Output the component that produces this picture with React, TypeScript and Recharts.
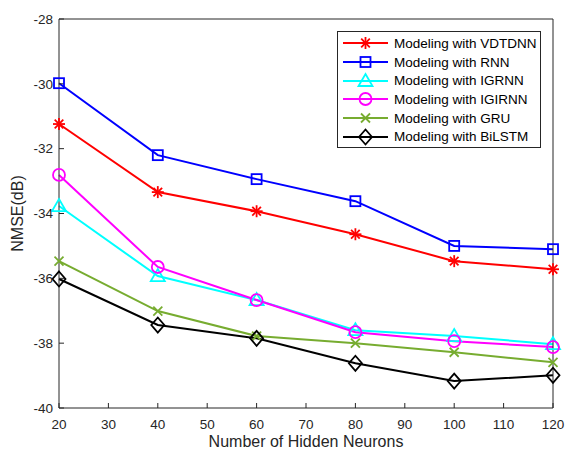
import { Legend, Line, LineChart, XAxis, YAxis } from 'recharts';

const neurons = [20, 40, 60, 80, 100, 120];
const vdtdnn = [-31.24, -33.34, -33.93, -34.64, -35.47, -35.72];
const rnn = [-29.98, -32.2, -32.94, -33.62, -35.0, -35.1];
const igrnn = [-33.77, -35.93, -36.67, -37.6, -37.78, -38.03];
const igirnn = [-32.81, -35.65, -36.67, -37.66, -37.94, -38.12];
const gru = [-35.47, -37.01, -37.78, -38.0, -38.28, -38.59];
const bilstm = [-36.02, -37.44, -37.85, -38.62, -39.17, -38.99];

const xTicks = [20, 30, 40, 50, 60, 70, 80, 90, 100, 110, 120];
const yTicks = [-40, -38, -36, -34, -32, -30, -28];

type MarkerType = 'asterisk' | 'square' | 'triangle' | 'circle' | 'cross' | 'diamond';

interface Series {
  key: string;
  label: string;
  color: string;
  marker: MarkerType;
  values: number[];
}

const SERIES: Series[] = [
  { key: 'vdtdnn', label: 'Modeling with VDTDNN', color: '#ff0000', marker: 'asterisk', values: vdtdnn },
  { key: 'rnn', label: 'Modeling with RNN', color: '#0000ff', marker: 'square', values: rnn },
  { key: 'igrnn', label: 'Modeling with IGRNN', color: '#00ffff', marker: 'triangle', values: igrnn },
  { key: 'igirnn', label: 'Modeling with IGIRNN', color: '#ff00ff', marker: 'circle', values: igirnn },
  { key: 'gru', label: 'Modeling with GRU', color: '#77ac30', marker: 'cross', values: gru },
  { key: 'bilstm', label: 'Modeling with BiLSTM', color: '#000000', marker: 'diamond', values: bilstm },
];

const data = neurons.map((n, i) => {
  const row: Record<string, number> = { n };
  SERIES.forEach((s) => {
    row[s.key] = s.values[i];
  });
  return row;
});

const AXIS = '#262626';
const FONT = 'Arial, "Liberation Sans", sans-serif';
const TICK = { fontSize: 13.5, fill: AXIS, fontFamily: FONT };

function Marker({ type, cx, cy, color }: { type: MarkerType; cx: number; cy: number; color: string }) {
  const common = { stroke: color, strokeWidth: 1.8, fill: 'none' };
  switch (type) {
    case 'asterisk': {
      const r = 6;
      const d = r * 0.72;
      return (
        <g {...common}>
          <line x1={cx - r} y1={cy} x2={cx + r} y2={cy} />
          <line x1={cx} y1={cy - r} x2={cx} y2={cy + r} />
          <line x1={cx - d} y1={cy - d} x2={cx + d} y2={cy + d} />
          <line x1={cx - d} y1={cy + d} x2={cx + d} y2={cy - d} />
        </g>
      );
    }
    case 'square':
      return <rect x={cx - 5} y={cy - 5} width={10} height={10} {...common} />;
    case 'triangle':
      return <polygon points={`${cx},${cy - 7} ${cx + 7},${cy + 5} ${cx - 7},${cy + 5}`} {...common} />;
    case 'circle':
      return <circle cx={cx} cy={cy} r={6} {...common} />;
    case 'cross':
      return (
        <g {...common}>
          <line x1={cx - 4.5} y1={cy - 4.5} x2={cx + 4.5} y2={cy + 4.5} />
          <line x1={cx - 4.5} y1={cy + 4.5} x2={cx + 4.5} y2={cy - 4.5} />
        </g>
      );
    default:
      return <polygon points={`${cx},${cy - 7.5} ${cx + 6.5},${cy} ${cx},${cy + 7.5} ${cx - 6.5},${cy}`} {...common} />;
  }
}

function LegendBox() {
  return (
    <div
      style={{
        border: `1px solid ${AXIS}`,
        background: '#fff',
        width: 202,
        padding: '2px 0 1px 0',
        fontFamily: FONT,
        fontSize: 13.5,
        color: '#000',
      }}
    >
      {SERIES.map((s) => (
        <div key={s.key} style={{ display: 'flex', alignItems: 'center', height: 18.7 }}>
          <svg width={56} height={18} style={{ flex: 'none' }}>
            <line x1={5} y1={9} x2={50} y2={9} stroke={s.color} strokeWidth={2} />
            <Marker type={s.marker} cx={27.5} cy={9} color={s.color} />
          </svg>
          <span style={{ whiteSpace: 'nowrap' }}>{s.label}</span>
        </div>
      ))}
    </div>
  );
}

export default function App() {
  return (
    <div style={{ position: 'absolute', left: 0, top: 0, width: 565, height: 453, background: '#fff' }}>
      <LineChart width={565} height={453} data={data} margin={{ top: 9, right: 0, bottom: 0, left: 0 }}>
        <XAxis
          dataKey="n"
          type="number"
          domain={[20, 120]}
          ticks={xTicks}
          height={45}
          stroke={AXIS}
          tick={TICK}
          tickSize={-5}
          tickMargin={16}
          label={{
            value: 'Number of Hidden Neurons',
            position: 'insideBottom',
            offset: 6,
            fontSize: 16,
            fill: AXIS,
            fontFamily: FONT,
          }}
        />
        <XAxis
          xAxisId="top"
          orientation="top"
          dataKey="n"
          type="number"
          domain={[20, 120]}
          ticks={xTicks}
          height={10}
          stroke={AXIS}
          tick={false}
          tickSize={-5}
        />
        <YAxis
          type="number"
          domain={[-40, -28]}
          ticks={yTicks}
          width={59}
          stroke={AXIS}
          tick={TICK}
          tickSize={-5}
          tickMargin={11}
          label={{
            content: ({ viewBox }: any) => (
              <text
                x={viewBox.x + 17}
                y={viewBox.y + viewBox.height / 2}
                transform={`rotate(-90, ${viewBox.x + 17}, ${viewBox.y + viewBox.height / 2})`}
                textAnchor="middle"
                dominantBaseline="central"
                fontSize={16}
                fill={AXIS}
                fontFamily={FONT}
              >
                NMSE(dB)
              </text>
            ),
          }}
        />
        <YAxis
          yAxisId="right"
          orientation="right"
          type="number"
          domain={[-40, -28]}
          ticks={yTicks}
          width={12}
          stroke={AXIS}
          tick={false}
          tickSize={-5}
        />
        <Legend
          layout="vertical"
          align="center"
          verticalAlign="middle"
          content={() => <LegendBox />}
          wrapperStyle={{ position: 'absolute', left: 337, top: 31, width: 'auto', height: 'auto' }}
        />
        {SERIES.map((s) => (
          <Line
            key={s.key}
            dataKey={s.key}
            stroke={s.color}
            strokeWidth={2}
            isAnimationActive={false}
            dot={(p: any) => <Marker key={`${s.key}-${p.index}`} type={s.marker} cx={p.cx} cy={p.cy} color={s.color} />}
            activeDot={false}
          />
        ))}
      </LineChart>
    </div>
  );
}
